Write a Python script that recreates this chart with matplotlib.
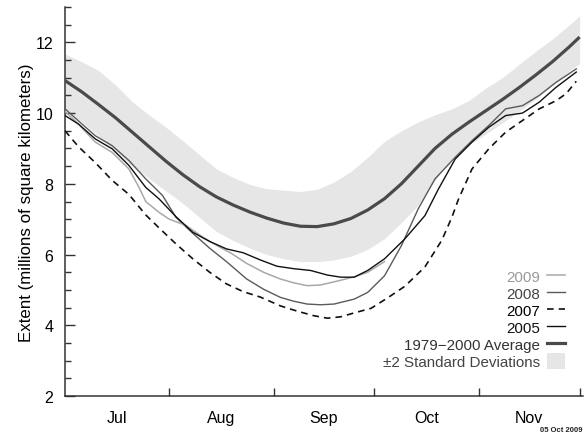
import matplotlib
matplotlib.use("Agg")
import matplotlib.pyplot as plt
from matplotlib.legend_handler import HandlerPatch
from matplotlib.patches import Rectangle, Patch
from matplotlib.lines import Line2D

plt.rcParams['font.family'] = ['Liberation Sans', 'DejaVu Sans']

# ---- data (day of year) ----
grid_days = [182, 187, 192, 197, 202, 207, 212, 217, 222, 227, 232, 237, 242, 247, 252,
             257, 262, 267, 272, 277, 282, 287, 292, 297, 302, 307, 312, 317, 322, 327, 332, 335]
avg_vals = [10.92, 10.60, 10.24, 9.87, 9.46, 9.05, 8.64, 8.26, 7.92, 7.63, 7.40, 7.20, 7.03, 6.89, 6.80,
            6.79, 6.87, 7.02, 7.26, 7.58, 8.00, 8.50, 9.00, 9.40, 9.74, 10.06, 10.38, 10.72, 11.08, 11.46, 11.88, 12.15]
band_upper = [11.67, 11.45, 11.20, 10.80, 10.32, 9.95, 9.60, 9.22, 8.82, 8.42, 8.18, 7.98, 7.86, 7.82, 7.78,
              7.85, 8.05, 8.35, 8.75, 9.20, 9.50, 9.75, 9.95, 10.12, 10.35, 10.70, 11.00, 11.38, 11.75, 12.10, 12.50, 12.75]
band_lower = [10.12, 9.75, 9.35, 8.90, 8.50, 8.15, 7.80, 7.45, 7.05, 6.65, 6.40, 6.18, 6.00, 5.88, 5.80,
              5.80, 5.85, 5.95, 6.15, 6.45, 6.90, 7.40, 8.10, 8.70, 9.10, 9.40, 9.72, 10.05, 10.40, 10.80, 11.20, 11.40]

days_2005 = [182, 186, 191, 196, 201, 206, 210, 215, 220, 225, 230, 235, 240, 245, 250, 255,
             260, 264, 268, 272, 277, 283, 289, 293, 298, 303, 308, 313, 318, 323, 328, 334]
vals_2005 = [9.93, 9.69, 9.27, 8.99, 8.52, 7.90, 7.57, 7.07, 6.63, 6.37, 6.16, 6.05, 5.85, 5.67, 5.60, 5.55,
             5.42, 5.36, 5.36, 5.55, 5.88, 6.44, 7.10, 7.85, 8.70, 9.18, 9.60, 9.93, 10.00, 10.31, 10.73, 11.16]

days_2007 = [182, 186, 191, 196, 201, 206, 210, 215, 220, 225, 230, 235, 240, 246, 251, 256, 260,
             264, 268, 273, 278, 283, 289, 294, 297, 299, 303, 308, 313, 318, 323, 328, 331, 334]
vals_2007 = [9.50, 9.05, 8.60, 8.10, 7.70, 7.12, 6.75, 6.30, 5.88, 5.50, 5.17, 4.95, 4.80, 4.55, 4.40, 4.27, 4.20,
             4.24, 4.35, 4.48, 4.78, 5.10, 5.65, 6.40, 7.05, 7.57, 8.42, 8.99, 9.46, 9.79, 10.12, 10.35, 10.55, 10.90]

days_2008 = [182, 186, 191, 196, 201, 206, 211, 215, 220, 225, 230, 236, 241, 246, 250, 254,
             258, 262, 268, 272, 277, 282, 287, 292, 298, 303, 308, 313, 318, 323, 328, 334]
vals_2008 = [10.12, 9.78, 9.36, 9.08, 8.66, 8.14, 7.67, 7.05, 6.60, 6.18, 5.80, 5.31, 5.02, 4.79, 4.68, 4.60,
             4.58, 4.60, 4.74, 4.93, 5.40, 6.25, 7.29, 8.14, 8.75, 9.22, 9.65, 10.12, 10.21, 10.50, 10.87, 11.25]

days_2009 = [182, 186, 191, 196, 201, 204, 206, 210, 213, 218, 223, 228, 231, 236, 241, 246,
             250, 254, 258, 263, 268, 272, 277]
vals_2009 = [10.05, 9.69, 9.18, 8.89, 8.42, 7.90, 7.50, 7.19, 7.00, 6.82, 6.49, 6.21, 6.06, 5.75, 5.50, 5.31,
             5.20, 5.12, 5.14, 5.25, 5.37, 5.50, 5.80]

month_labels = ['Jul', 'Aug', 'Sep', 'Oct', 'Nov']
month_mid_days = [197.5, 228.5, 259, 289.5, 320]
month_start_days = [213, 244, 274, 305, 335]
y_major = [2, 4, 6, 8, 10, 12]

# ---- figure ----
fig = plt.figure(figsize=(5.85, 4.39), dpi=100)
ax = fig.add_axes([65/585, 1-397/439, 518/585, 389/439])

c_band = '#e6e6e6'
c_avg = '#4a4a4a'
c_09 = '#a8a8a8'
c_08 = '#5a5a5a'
c_07 = '#111111'
c_05 = '#111111'

ax.fill_between(grid_days, band_lower, band_upper, color=c_band, lw=0, zorder=1)
ax.plot(grid_days, avg_vals, color=c_avg, lw=2.3, zorder=3, solid_capstyle='butt')
ax.plot(days_2007, vals_2007, color=c_07, lw=1.2, ls=(0, (4, 3)), zorder=4)
ax.plot(days_2005, vals_2005, color=c_05, lw=1.0, zorder=5)
ax.plot(days_2008, vals_2008, color=c_08, lw=1.0, zorder=4)
ax.plot(days_2009, vals_2009, color=c_09, lw=1.1, zorder=4)

ax.set_xlim(182, 336)
ax.set_ylim(2, 13)

for s in ['top', 'right']:
    ax.spines[s].set_visible(False)
for s in ['left', 'bottom']:
    ax.spines[s].set_color('#333333')
    ax.spines[s].set_linewidth(1.1)

ax.set_xticks(month_start_days)
ax.set_xticklabels([])
ax.set_xticks(month_mid_days, minor=True)
ax.set_xticklabels(month_labels, minor=True)
ax.tick_params(axis='x', which='major', direction='in', length=6, width=1, color='#333333')
ax.tick_params(axis='x', which='minor', length=0, pad=10, labelsize=11.5)

ax.set_yticks(y_major)
ax.set_yticks([v/2 for v in range(4, 27)], minor=True)
ax.tick_params(axis='y', which='major', direction='in', length=7, width=1, color='#333333',
               pad=8.5, labelsize=11.5)
ax.tick_params(axis='y', which='minor', direction='in', length=4.5, width=1, color='#333333')

ax.set_ylabel('Extent (millions of square kilometers)', fontsize=12.2, labelpad=1)

# ---- legend ----
def tall_rect(legend, orig_handle, xdescent, ydescent, width, height, fontsize):
    return Rectangle((-xdescent, -ydescent - 0.3*height), width, height*1.55)

handles = [Line2D([], [], color=c_09, lw=1.1),
           Line2D([], [], color=c_08, lw=1.0),
           Line2D([], [], color=c_07, lw=1.2, ls=(0, (4, 3))),
           Line2D([], [], color=c_05, lw=1.0),
           Line2D([], [], color=c_avg, lw=2.3),
           Patch(facecolor=c_band, edgecolor='none')]
labels = ['2009', '2008', '2007', '2005', '1979\u22122000 Average', '\u00b12 Standard Deviations']
leg = ax.legend(handles, labels, loc='lower right', bbox_to_anchor=(0.965, 0.07),
                frameon=False, markerfirst=False, fontsize=10.9, handlelength=1.2,
                handletextpad=0.45, labelspacing=0.2, borderpad=0, borderaxespad=0,
                handler_map={Patch: HandlerPatch(patch_func=tall_rect)})
for t, c in zip(leg.get_texts(), ['#999999', '#444444', '#000000', '#111111', '#333333', '#444444']):
    t.set_color(c)

fig.text(0.995, 0.012, '05 Oct 2009', fontsize=5.5, ha='right', va='bottom', fontweight='bold', color='#222222')

fig.savefig('out.png', dpi=100, facecolor='white')
